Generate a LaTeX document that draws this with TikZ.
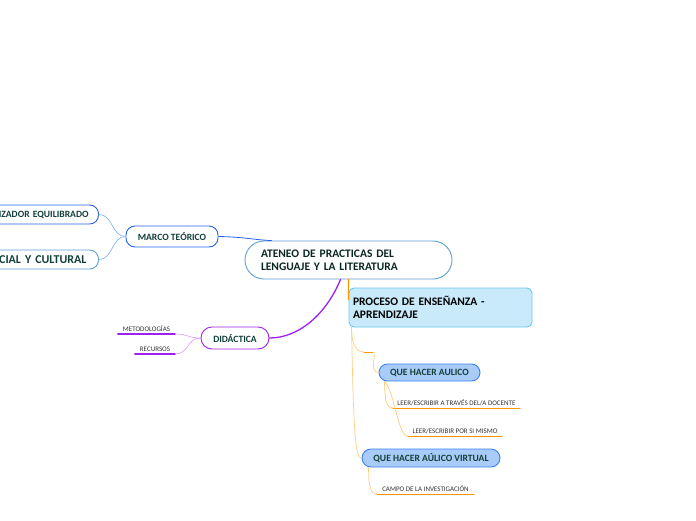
\documentclass[tikz,border=0pt]{standalone}
\usepackage{fontspec}
\setmainfont{Carlito}
\usepackage{tikz}
\usetikzlibrary{positioning,calc}
\definecolor{topictext}{HTML}{12403A}
\definecolor{rootline}{HTML}{5EA0D8}
\definecolor{marcoline}{HTML}{2563EB}
\definecolor{marcolight}{HTML}{8AB4F0}
\definecolor{didline}{HTML}{A020F0}
\definecolor{didlight}{HTML}{D9A6F5}
\definecolor{procline}{HTML}{6CC6EF}
\definecolor{procfill}{HTML}{C8EAFB}
\definecolor{aulfill}{HTML}{A9CBF7}
\definecolor{aulline}{HTML}{3B82F6}
\definecolor{orangedark}{HTML}{FF9800}
\definecolor{orangelight}{HTML}{FFCC80}
\tikzset{
 rootbox/.style={draw=rootline, fill=white, line width=.9pt, rounded corners=19pt,
   minimum height=38pt, text width=175pt, inner xsep=16pt, align=left,
   text=topictext!60!black, font=\bfseries\fontsize{11.5}{13}\selectfont},
 topicbox/.style={draw=#1, fill=white, line width=.9pt, rounded corners=9pt,
   text=topictext, font=\bfseries\fontsize{9.6}{10}\selectfont},
 procbox/.style={draw=procline, fill=procfill, line width=.9pt, rounded corners=5pt,
   minimum width=183pt, minimum height=39pt, text width=175pt, inner xsep=4pt,
   align=left, font=\bfseries\fontsize{11.5}{13}\selectfont},
 aulbox/.style={draw=aulline, fill=aulfill, line width=.9pt, rounded corners=8.5pt,
   text=topictext, font=\bfseries\fontsize{9.6}{10}\selectfont},
 leaf/.style={inner xsep=0pt, inner ysep=2pt, anchor=south,
   font=\fontsize{7}{7}\selectfont, text=black!80},
 link/.style={line width=#1, line cap=round},
}
\begin{document}
\begin{tikzpicture}[x=1pt, y=-1pt]
\useasboundingbox (0,0) rectangle (696,520);
% central topic
\node[rootbox, minimum width=207pt] (root) at (348.5,260)
  {ATENEO DE PRACTICAS DEL\\LENGUAJE Y LA LITERATURA};

% marco teorico
\node[topicbox=marcoline, minimum width=92pt, minimum height=21pt] (marco) at (172,236.5) {MARCO TEÓRICO};
\node[topicbox=marcoline, anchor=east, text width=140pt, align=right, inner xsep=10pt,
  minimum height=19pt] (izador) at (99,214.5) {IZADOR EQUILIBRADO};
\node[topicbox=rootline, anchor=east, text width=140pt, align=right, inner xsep=12pt,
  minimum height=19pt, font=\bfseries\fontsize{12}{13}\selectfont] (social) at (99,259.5) {CIAL Y CULTURAL};

% didactica
\node[topicbox=didline, minimum width=68pt, minimum height=22pt, rounded corners=11pt] (didac) at (235,338) {DIDÁCTICA};
\node[leaf, minimum width=57pt] (metod) at (146.5,334) {METODOLOGÍAS};
\node[leaf, minimum width=40pt] (recur) at (155,354) {RECURSOS};

% proceso
\node[procbox] (proceso) at (440.5,307.5) {PROCESO DE ENSEÑANZA -\\APRENDIZAJE};
\node[leaf, minimum width=9pt] (vacio) at (368.5,352) {};
\node[aulbox, minimum width=101pt, minimum height=17pt] (aulico) at (429.5,372.5) {QUE HACER AULICO};
\node[leaf, minimum width=127pt] (leer1) at (456.5,408) {LEER/ESCRIBIR A TRAVÉS DEL/A DOCENTE};
\node[leaf, minimum width=94pt] (leer2) at (455,436) {LEER/ESCRIBIR POR SI MISMO};
\node[aulbox, minimum width=138pt, minimum height=18pt, rounded corners=9pt] (virtual) at (431,458) {QUE HACER AÚLICO VIRTUAL};
\node[leaf, minimum width=97pt] (campo) at (425.5,494) {CAMPO DE LA INVESTIGACIÓN};

% underlines
\foreach \n in {metod,recur} \draw[didline, link=1.3pt] (\n.south west) -- (\n.south east);
\foreach \n in {vacio,leer1,leer2,campo} \draw[orangedark, link=.9pt] (\n.south west) -- (\n.south east);

% connectors
\coordinate (rootin) at ($(root.north west)+(27,0)$);
\draw[marcoline, link=.8pt] (marco.east) .. controls (245,237) and (255,240) .. (rootin);
\foreach \n in {izador,social}
  \draw[marcolight, link=.7pt] (marco.west) .. controls +(-14,0) and +(14,0) .. (\n.east);

\draw[didline, link=1.3pt] ($(root.south)+(-8,0)$) .. controls +(-14,34) and +(30,0) .. (didac.east);
\foreach \n in {metod,recur}
  \draw[didlight, link=.7pt] (didac.west) .. controls +(-14,0) and +(14,0) .. (\n.south east);

\draw[orangedark, link=1.2pt] (root.south) -- ($(proceso.north west)+(0,12)$);
\coordinate (procout) at ($(proceso.south west)+(3,0)$);
\draw[orangelight, link=.7pt] (procout) .. controls +(0,20) and +(-6,0) .. (vacio.south west);
\draw[orangelight, link=.7pt] (vacio.south east) .. controls +(4,0) and +(-10,0) .. (aulico.west);
\draw[orangelight, link=.7pt] (procout) .. controls +(2,110) and +(-6,0) .. (virtual.west);
\coordinate (aulout) at ($(aulico.south west)+(6,0)$);
\draw[orangelight, link=.7pt] (aulout) .. controls +(0,20) and +(-6,0) .. (leer1.south west);
\draw[orangelight, link=.7pt] (aulout) .. controls +(10,10) and +(-10,0) .. (leer2.south west);
\coordinate (virtout) at ($(virtual.south west)+(7,0)$);
\draw[orangelight, link=.7pt] (virtout) .. controls +(0,20) and +(-6,0) .. (campo.south west);
\end{tikzpicture}
\end{document}
